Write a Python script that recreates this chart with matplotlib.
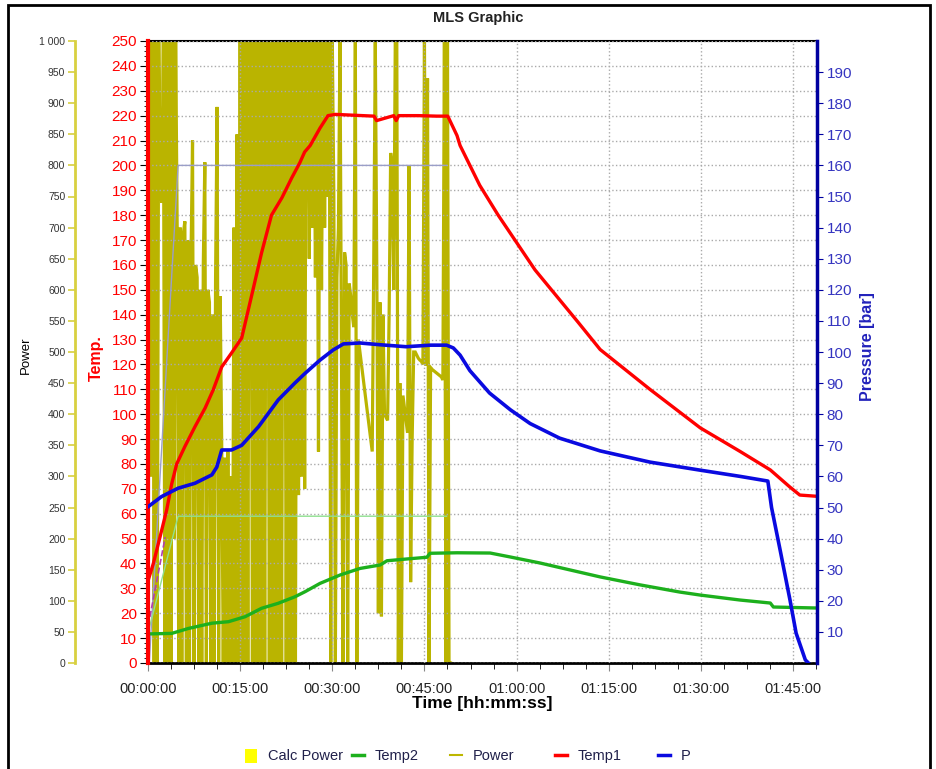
import numpy as np
import matplotlib
matplotlib.use("Agg")
import matplotlib.pyplot as plt
from matplotlib.ticker import FuncFormatter, MultipleLocator, FixedLocator
from matplotlib.lines import Line2D
from matplotlib.patches import Rectangle

plt.rcParams['font.family'] = ['Liberation Sans', 'DejaVu Sans']

# ---- data (time in minutes) ----
# Power, sampled every 0.25 min
power_step = 0.25
power = [
    0, 1000, 300, 1000,     1, 1000, 0, 1000,       760, 740, 1000, 0,     1000, 0, 1000, 0,
    1000, 200, 1000, 700,   0, 700, 0, 690,         710, 0, 680, 0,        650, 840, 0, 640,
    620, 0, 600, 0,         640, 805, 0, 600,       580, 0, 560, 0,        620, 894, 0, 590,
    350, 0, 330, 0,         340, 0, 300, 0,         700, 0, 850, 0,        1000, 0, 1000, 0,
    1000, 0, 1000, 1000,    0, 1000, 0, 1000,       0, 1000, 0, 1000,      0, 1000, 1000, 0,
    1000, 0, 1000, 0,       1000, 0, 1000, 0,       1000, 1000, 0, 1000,   0, 1000, 0, 1000,
    0, 1000, 270, 1000,     300, 1000, 280, 1000,   1000, 650, 1000, 700,  1000, 620, 1000, 340,
    1000, 600, 1000, 700,   1000, 750, 1000,
    0, 1000, 750, 0, 620, 700, 1000, 480, 0, 660, 640, 0, 610, 590, 560, 540,
    1000, 0, 520, 500, 480, 460, 440, 420, 400, 380, 360, 340, 650, 1000, 620, 80,
    580, 75, 560, 400, 395, 390, 560, 820, 800, 600, 1000, 1000, 0, 450, 0, 430,
    410, 390, 370, 800, 130, 360, 500, 500, 495, 490, 487, 485, 480, 1000, 478, 940,
    0, 475, 472, 470, 468, 466, 464, 462, 460, 455, 1000, 0, 1000, 0, 0,
]

temp1_t = [0.05, 0.87, 1.95, 3.04, 3.86, 4.67, 6.0, 7.65, 9.3, 10.6, 12.0, 13.6, 15.25, 16.9,
           18.5, 20.1, 21.8, 23.4, 24.7, 25.5, 26.4, 28.0, 29.3, 30.5, 35.0, 36.8, 37.2,
           40.0, 40.4, 40.8, 44.0, 47.0, 48.8, 50.3, 50.8, 54.0, 57.0, 60.0, 63.0, 66.0,
           70.0, 73.6, 81.7, 89.9, 96.4, 101.3, 104.5, 106.1, 108.9]
temp1 = [33.4, 40, 50.6, 61.5, 72, 80, 87, 95, 102.5, 109.7, 119, 124.6, 130.6, 148,
         165, 180, 187, 195, 201, 205.4, 208, 215, 220, 220.5, 220, 219.8, 218,
         220, 218, 220, 220, 219.8, 219.8, 212, 208, 192, 180, 169, 158, 149,
         137, 126, 110, 94.5, 85, 77.6, 70.7, 67.5, 67]

temp2_t = [0.3, 3.86, 6.6, 10.4, 13.1, 15.8, 18.5, 21.2, 23.9, 25.6, 28.0, 31.3, 34.5, 37.8,
           38.9, 42.1, 45.4, 45.9, 50.3, 55.7, 59.0, 63.8, 68.7, 73.6, 80.1, 86.6, 89.9,
           96.4, 101.3, 101.8, 108.9]
temp2 = [11.7, 11.9, 13.9, 16, 16.6, 18.6, 22, 24, 26.6, 28.7, 32, 35.4, 38, 39.4,
         41.1, 41.8, 42.5, 44.1, 44.3, 44.2, 42.6, 40.2, 37.4, 34.6, 31.4, 28.5, 27.3,
         25.3, 24.1, 22.5, 22.1]

p_t = [0.05, 2.2, 4.9, 7.65, 10.4, 11.2, 12.0, 13.6, 15.25, 18.0, 21.2, 23.9, 25.6, 28.0,
       30.1, 31.8, 34.5, 38.0, 42.0, 46.0, 48.6, 49.7, 50.8, 52.4, 55.6, 59.0, 62.2, 67.0,
       73.6, 81.7, 89.9, 96.4, 100.9, 101.5, 102.9, 104.5, 105.5, 107.0, 107.5]
pressure = [50.3, 53.5, 56.2, 57.8, 60.5, 63, 68.5, 68.5, 70, 76, 84.6, 90, 93.2, 97.4,
            100.6, 102.6, 102.9, 102.3, 101.7, 102.2, 102.2, 101.3, 99, 94, 86.8, 81.4, 77, 72.3,
            68.2, 64.6, 62, 60, 58.5, 50, 36.3, 20.3, 9.6, 1, 0]

# set points (thin lines)
sp_temp1_t = [0.2, 4.9, 48.6]
sp_temp1 = [0, 200, 200]
sp_temp2_t = [0.1, 4.9, 48.6]
sp_temp2 = [13, 59, 59]
ghost_t = [0.3, 2.8]
ghost = [18.5, 50.6]

x_max = 108.9
power_t = np.arange(len(power)) * power_step

# ---- figure ----
fig = plt.figure(figsize=(9.37, 7.69), dpi=100)
ax = fig.add_axes([148 / 937, 106 / 769, 669 / 937, 622 / 769])

# power axis (base)
ax.plot(power_t, power, color='#BAB400', lw=2.3, solid_joinstyle='miter')
ax.set_ylim(0, 1000)
ax.set_xlim(0, x_max)

ax_t = ax.twinx()
ax_p = ax.twinx()

ax.spines['left'].set_position(('axes', -0.109))
ax.spines['left'].set_color('#D8D040')
ax.spines['left'].set_linewidth(2)
ax.spines['right'].set_visible(False)
ax.spines['bottom'].set_linewidth(2)
ax.spines['top'].set_linewidth(1.5)
ax.yaxis.set_major_locator(MultipleLocator(50))
ax.yaxis.set_major_formatter(FuncFormatter(lambda v, pos: f'{int(v):,}'.replace(',', ' ')))
ax.tick_params(axis='y', colors='#D8D040', labelcolor='#333333', labelsize=7.5, length=5, width=1.2, pad=2)
ax.set_ylabel('Power', fontsize=9.5, color='black')
ax.yaxis.set_label_coords(-0.173, 0.495)

# time axis
ax.xaxis.set_major_locator(MultipleLocator(15))
ax.xaxis.set_minor_locator(MultipleLocator(3.75))
ax.xaxis.set_major_formatter(FuncFormatter(lambda v, pos: '%02d:%02d:00' % (int(v) // 60, int(v) % 60)))
ax.tick_params(axis='x', which='major', length=6, color='#888888', labelsize=10.5, pad=8, labelcolor='#222222')
ax.tick_params(axis='x', which='minor', length=4, color='black')
ax.set_xlabel('Time [hh:mm:ss]', fontsize=12.5, fontweight='bold')
ax.xaxis.set_label_coords(0.5, -0.053)

# temperature axis
ax_t.set_ylim(0, 250)
ax_t.yaxis.set_ticks_position('left')
ax_t.yaxis.set_label_position('left')
for s in ['right', 'top', 'bottom']:
    ax_t.spines[s].set_visible(False)
ax_t.spines['left'].set_color('red')
ax_t.spines['left'].set_linewidth(3)
ax_t.yaxis.set_major_locator(MultipleLocator(10))
ax_t.yaxis.set_minor_locator(MultipleLocator(2))
ax_t.tick_params(axis='y', which='major', colors='black', labelcolor='red', labelsize=11, length=6, pad=2)
ax_t.tick_params(axis='y', which='minor', colors='black', length=3)
ax_t.set_ylabel('Temp.', fontsize=11.5, fontweight='bold', color='red')
ax_t.yaxis.set_label_coords(-0.066, 0.49)
ax_t.grid(axis='y', color='#AAAAAA', linestyle=':', linewidth=1)
for xv in np.arange(15, x_max, 15):
    ax_t.axvline(xv, color='#AAAAAA', linestyle=':', linewidth=1)

ax_t.plot(sp_temp1_t, sp_temp1, color='#9A9EC8', lw=1)
ax_t.plot(sp_temp2_t, sp_temp2, color='#90E090', lw=1)
ax_t.plot(ghost_t, ghost, color='#B040B0', lw=1.2, ls='--')
ax_t.plot(temp2_t, temp2, color='#1DB01D', lw=2.4)
ax_t.plot(temp1_t, temp1, color='#FF0000', lw=2.4)

# pressure axis
ax_p.set_ylim(0, 200)
for s in ['left', 'top', 'bottom']:
    ax_p.spines[s].set_visible(False)
ax_p.spines['right'].set_color('#0000A0')
ax_p.spines['right'].set_linewidth(2.5)
ax_p.yaxis.set_major_locator(FixedLocator(np.arange(10, 200, 10)))
ax_p.tick_params(axis='y', colors='#0000A0', labelcolor='#3535C0', labelsize=11, length=4, pad=3)
ax_p.set_ylabel('Pressure [bar]', fontsize=11.5, fontweight='bold', color='#2222BB')
ax_p.yaxis.set_label_coords(1.064, 0.508)
ax_p.plot(p_t, pressure, color='#0A0AE0', lw=2.6)

# title
fig.text(0.51, 0.9766, 'MLS Graphic', ha='center', va='center', fontsize=10.5, fontweight='bold', color='#222222')

# legend (one entry at a time so the spacing follows the reference)
entries = [
    (245, Rectangle((0, 0), 1, 1, facecolor='#FFFF00', edgecolor='none'), 'Calc Power'),
    (352, Line2D([], [], color='#1DB01D', lw=2.5), 'Temp2'),
    (450, Line2D([], [], color='#BDB700', lw=1.5), 'Power'),
    (555, Line2D([], [], color='#FF0000', lw=2.5), 'Temp1'),
    (658, Line2D([], [], color='#0A0AE0', lw=2.5), 'P'),
]
for xpix, h, lab in entries:
    leg = fig.legend([h], [lab], loc='center left', bbox_to_anchor=(xpix / 937, 13 / 769),
                     frameon=False, fontsize=10.5, handlelength=0.85, handleheight=1.1,
                     handletextpad=0.7, borderpad=0, borderaxespad=0)
    for t in leg.get_texts():
        t.set_color('#20204A')

# outer frame
fig.add_artist(Rectangle((8 / 937, -0.02), 922 / 937, 1.013, transform=fig.transFigure,
                         fill=False, edgecolor='black', lw=2))

fig.savefig('out.png', dpi=100)
